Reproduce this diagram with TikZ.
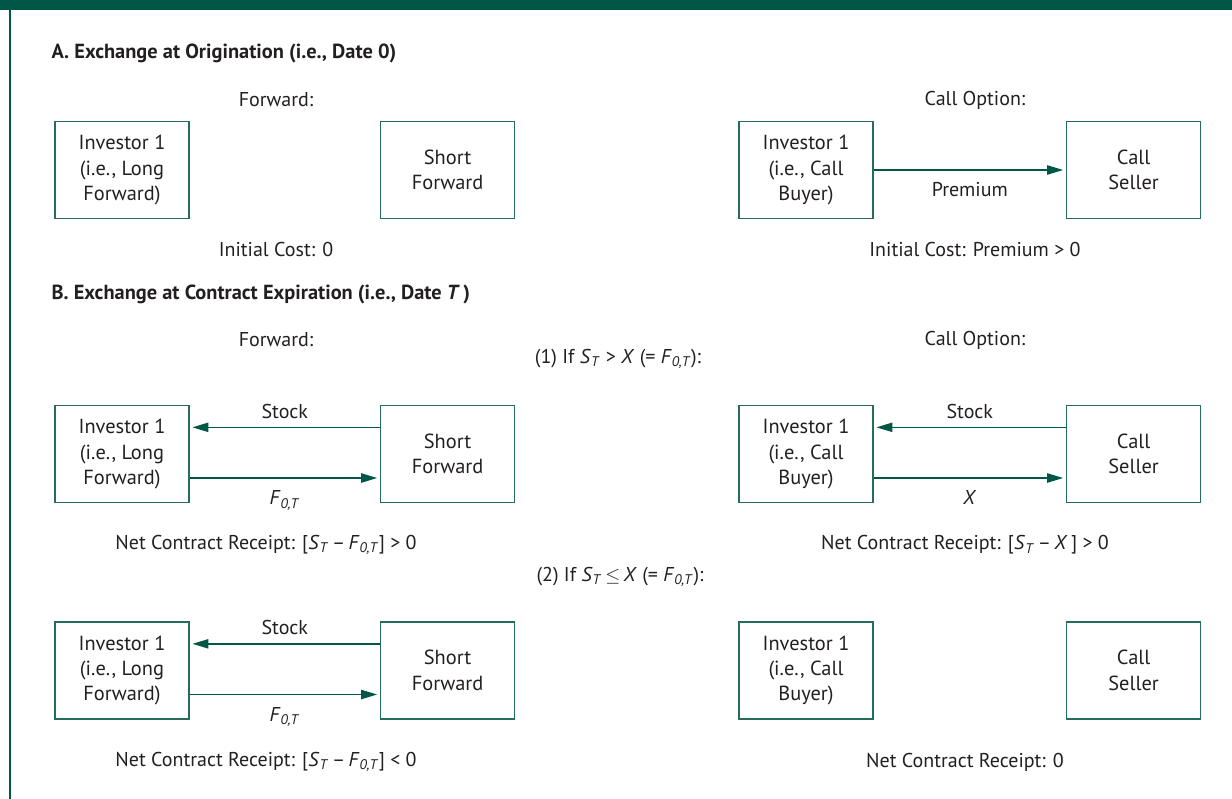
\documentclass[tikz,border=0pt]{standalone}
\usepackage{fontspec}
\setmainfont{PT Sans}
\usetikzlibrary{positioning, arrows.meta}
\definecolor{bandgreen}{RGB}{0,87,72}
\definecolor{boxgreen}{RGB}{38,108,94}
\definecolor{textgray}{RGB}{35,31,32}
\newcommand\myST{\textit{S}\textsubscript{\textit{T}}}
\newcommand\myFT{\textit{F}\textsubscript{\textit{0,T}}}
\tikzset{
  > = {Triangle[length = 12pt, width = 7pt]},
  party/.style = {draw = boxgreen, line width = 1.2pt, align = center, inner sep = 0pt,
    minimum width = 100.5pt, minimum height = 72.75pt, text = textgray,
    font = \fontsize{15.3}{19}\selectfont},
  flow/.style = {->, draw = bandgreen, line width = 1pt, shorten > = 2pt},
  caption/.style = {text = textgray, inner sep = 1pt, font = \fontsize{15}{19}\selectfont},
  heading/.style = {caption, anchor = west, font = \fontsize{15.3}{19}\selectfont\bfseries}
}
\begin{document}
\begin{tikzpicture}[x = 0.75pt, y = -0.75pt]
\useasboundingbox (0,0) rectangle (1232,799);
\fill [bandgreen] (0,0) rectangle (1232,10);
\draw [bandgreen, line width = 2.2pt] (10,10) -- (10,799);

% A. origination
\node [heading] (headA) at (50,53) {A. Exchange at Origination (i.e., Date 0)};
\node [caption] (fwdA) at (276,100) {Forward:};
\node [party] (invA) at (122,170) {Investor 1\\(i.e., Long\\Forward)};
\node [party, right = 142.5pt of invA] (shortA) {Short\\Forward};
\node [caption] (costA) at (276,249) {Initial Cost: 0};

\node [caption] (callA) at (975,100) {Call Option:};
\node [party] (buyA) at (806,170) {Investor 1\\(i.e., Call\\Buyer)};
\node [party, right = 144pt of buyA] (sellA) {Call\\Seller};
\draw [flow] (buyA) -- node [caption, below = 8pt] {Premium} (sellA);
\node [caption] (premA) at (975,249) {Initial Cost: Premium > 0};

% B. expiration
\node [heading] (headB) at (50,294) {B. Exchange at Contract Expiration (i.e., Date \textit{T}\,)};
\node [caption] (fwdB) at (276,340) {Forward:};
\node [caption] (callB) at (975,340) {Call Option:};
\node [caption] (caseB) at (618,359) {(1) If \myST{} > \textit{X} (= \myFT):};

\node [party] (invB) at (122,454) {Investor 1\\(i.e., Long\\Forward)};
\node [party, right = 142.5pt of invB] (shortB) {Short\\Forward};
\draw [flow] ([yshift = 20pt]shortB.west) -- node [caption, above = 5pt] {Stock} ([yshift = 20pt]invB.east);
\draw [flow] ([yshift = -18pt]invB.east) -- node [caption, below = 8pt] {\myFT} ([yshift = -18pt]shortB.west);
\node [caption] (netB) at (266,545) {Net Contract Receipt: [\myST{}\,–\,\myFT] > 0};

\node [party] (buyB) at (806,454) {Investor 1\\(i.e., Call\\Buyer)};
\node [party, right = 144pt of buyB] (sellB) {Call\\Seller};
\draw [flow] ([yshift = 20pt]sellB.west) -- node [caption, above = 5pt] {Stock} ([yshift = 20pt]buyB.east);
\draw [flow] ([yshift = -18pt]buyB.east) -- node [caption, below = 8pt] {\textit{X}} ([yshift = -18pt]sellB.west);
\node [caption] (netcallB) at (965,545) {Net Contract Receipt: [\myST{}\,–\,\textit{X}\,] > 0};

\node [caption] (caseC) at (620,577) {(2) If \myST{}\,$\leq$\,\textit{X} (= \myFT):};

\node [party] (invC) at (122,670.5) {Investor 1\\(i.e., Long\\Forward)};
\node [party, right = 142.5pt of invC] (shortC) {Short\\Forward};
\draw [flow] ([yshift = 20pt]shortC.west) -- node [caption, above = 5pt] {Stock} ([yshift = 20pt]invC.east);
\draw [flow] ([yshift = -18pt]invC.east) -- node [caption, below = 8pt] {\myFT} ([yshift = -18pt]shortC.west);
\node [caption] (netC) at (266,762) {Net Contract Receipt: [\myST{}\,–\,\myFT] < 0};

\node [party] (buyC) at (806,670.5) {Investor 1\\(i.e., Call\\Buyer)};
\node [party, right = 144pt of buyC] (sellC) {Call\\Seller};
\node [caption] (netcallC) at (965,762) {Net Contract Receipt: 0};

\end{tikzpicture}
\end{document}
